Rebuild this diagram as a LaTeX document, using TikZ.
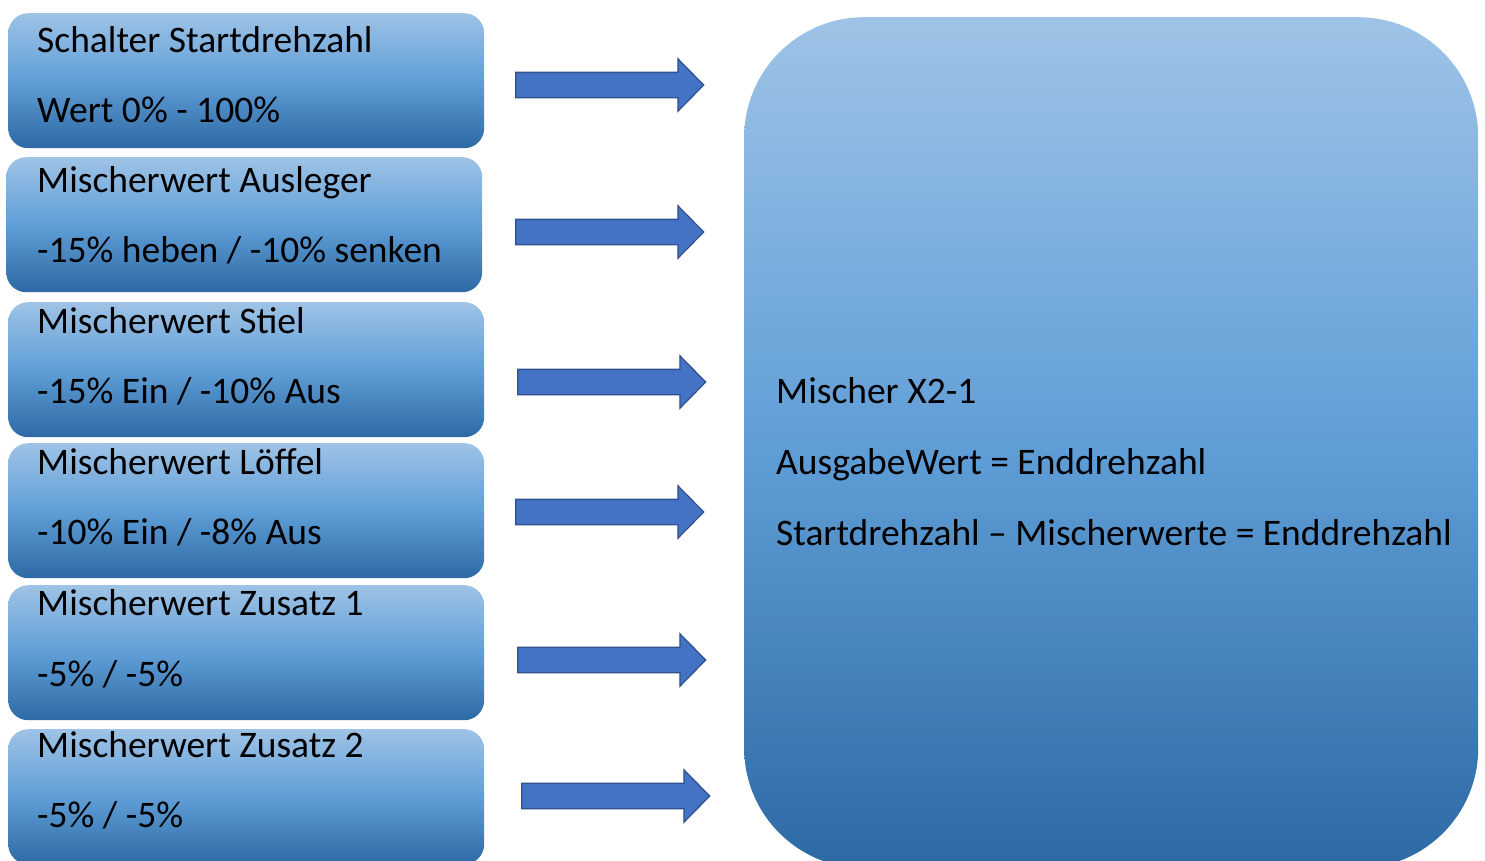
\documentclass[tikz,border=0pt]{standalone}
\usepackage{fontspec}
\setmainfont{Carlito}
\usetikzlibrary{shapes.arrows}
\definecolor{gtop}{RGB}{158,195,230}
\definecolor{gmid}{RGB}{96,158,215}
\definecolor{gbot}{RGB}{45,106,165}
\definecolor{arrfill}{RGB}{68,114,196}
\definecolor{arrline}{RGB}{47,82,143}
\tikzset{
  inbox/.style={draw=none, rounded corners=20pt, minimum width=476pt, minimum height=135pt,
    anchor=north west, inner sep=0pt, top color=gtop, bottom color=gbot, middle color=gmid},
  bigbox/.style={draw=none, rounded corners=120pt, minimum width=734pt, minimum height=851pt,
    anchor=north west, inner sep=0pt, top color=gtop, bottom color=gbot, middle color=gmid},
  lbl/.style={anchor=base west, inner sep=0pt, font=\fontsize{37.5pt}{44pt}\selectfont, text=black},
  blockarrow/.style={single arrow, draw=arrline, fill=arrfill, line width=1.3pt,
    minimum height=188pt, inner xsep=0pt, inner ysep=12pt, single arrow head extend=13.5pt,
    single arrow tip angle=91, anchor=tail}
}
\begin{document}
\begin{tikzpicture}[x=1pt,y=-1pt]
\useasboundingbox (0,0) rectangle (1485,860);
\clip (0,0) rectangle (1485,860);
% big box
\node[bigbox] (mix) at (744,17) {};
% input boxes
\node[inbox] (b1) at (8,13) {};
\node[inbox] (b2) at (6,157) {};
\node[inbox] (b3) at (8,302) {};
\node[inbox] (b4) at (8,443) {};
\node[inbox] (b5) at (8,585) {};
\node[inbox] (b6) at (8,729) {};
% texts
\node[lbl] (t1a) at (37,52) {Schalter Startdrehzahl};
\node[lbl] (t1b) at (37,122) {Wert 0\% - 100\%};
\node[lbl] (t2a) at (37,192) {Mischerwert Ausleger};
\node[lbl] (t2b) at (37,262) {-15\% heben / -10\% senken};
\node[lbl] (t3a) at (37,333) {Mischerwert Stiel};
\node[lbl] (t3b) at (37,403) {-15\% Ein / -10\% Aus};
\node[lbl] (t4a) at (37,474) {Mischerwert Löffel};
\node[lbl] (t4b) at (37,544) {-10\% Ein / -8\% Aus};
\node[lbl] (t5a) at (37,615) {Mischerwert Zusatz 1};
\node[lbl] (t5b) at (37,686) {-5\% / -5\%};
\node[lbl] (t6a) at (37,757) {Mischerwert Zusatz 2};
\node[lbl] (t6b) at (37,827) {-5\% / -5\%};
\node[lbl] (m1) at (776,403) {Mischer X2-1};
\node[lbl] (m2) at (776,474) {AusgabeWert = Enddrehzahl};
\node[lbl] (m3) at (776,545) {Startdrehzahl – Mischerwerte = Enddrehzahl};
% arrows
\node[blockarrow] (a1) at (515,85) {};
\node[blockarrow] (a2) at (515,232) {};
\node[blockarrow] (a3) at (517,382) {};
\node[blockarrow] (a4) at (515,512) {};
\node[blockarrow] (a5) at (517,660) {};
\node[blockarrow] (a6) at (521,796) {};
\end{tikzpicture}
\end{document}
